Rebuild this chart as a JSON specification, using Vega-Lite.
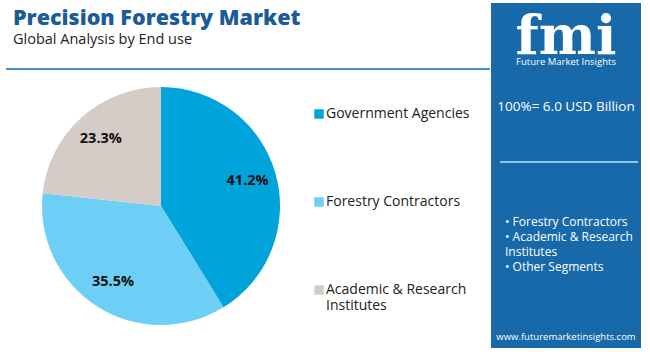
{
  "$schema": "https://vega.github.io/schema/vega-lite/v6.json",
  "background": "white",
  "padding": {"left": 5, "top": 3, "right": 0, "bottom": 0},
  "config": {"view": {"stroke": null}, "font": "Open Sans"},
  "spacing": 0,
  "resolve": {"legend": {"color": "independent"}, "scale": {"color": "independent"}},
  "hconcat": [
    {
      "spacing": 17,
      "resolve": {"legend": {"color": "independent"}, "scale": {"color": "independent"}},
      "vconcat": [
        {
          "width": 484,
          "height": 66,
          "resolve": {"scale": {"x": "independent", "y": "independent"}},
          "layer": [
            {
              "data": {"values": [{"label": "Precision Forestry Market"}]},
              "mark": {"type": "text", "font": "Open Sans", "fontSize": 21.5, "fontWeight": 800, "fill": "#1a5b99", "baseline": "alphabetic", "align": "left"},
              "encoding": {
                "text": {"field": "label"},
                "x": {"datum": "left", "type": "nominal", "scale": {"type": "point", "padding": 0, "align": 0.0145}, "axis": null},
                "y": {"field": "label", "type": "nominal", "scale": {"type": "point", "padding": 0, "align": 0.333}, "axis": null}
              }
            },
            {
              "data": {"values": [{"label": "Global Analysis by End use"}]},
              "mark": {"type": "text", "font": "Open Sans", "fontSize": 14.5, "fill": "#222222", "baseline": "alphabetic", "align": "left"},
              "encoding": {
                "text": {"field": "label"},
                "x": {"datum": "left", "type": "nominal", "scale": {"type": "point", "padding": 0, "align": 0.0145}, "axis": null},
                "y": {"field": "label", "type": "nominal", "scale": {"type": "point", "padding": 0, "align": 0.621}, "axis": null}
              }
            },
            {
              "data": {"values": [{"label": "divider"}]},
              "mark": {"type": "rule", "stroke": "#4a8fc9", "strokeWidth": 2},
              "encoding": {
                "y": {"field": "label", "type": "nominal", "scale": {"type": "point", "padding": 0, "align": 1}, "axis": null}
              }
            }
          ]
        },
        {
          "width": 274,
          "height": 238,
          "data": {
            "values": [
              {"segment": "Government Agencies", "share": 0.412},
              {"segment": "Forestry Contractors", "share": 0.355},
              {"segment": "Academic & Research Institutes", "share": 0.233}
            ]
          },
          "encoding": {
            "theta": {"field": "share", "type": "quantitative", "stack": true},
            "order": {"field": "share", "sort": "descending"},
            "x": {"datum": "pie", "type": "nominal", "scale": {"type": "point", "padding": 0, "align": 0.5657}, "axis": null}
          },
          "layer": [
            {
              "mark": {"type": "arc", "outerRadius": 119},
              "encoding": {
                "color": {
                  "field": "segment",
                  "type": "nominal",
                  "scale": {
                    "domain": ["Government Agencies", "Forestry Contractors", "Academic & Research Institutes"],
                    "range": ["#00a3da", "#6dcff6", "#d5ccc8"]
                  },
                  "legend": {
                    "orient": "right",
                    "title": " ",
                    "titleFontSize": 10,
                    "titlePadding": 10,
                    "offset": 32,
                    "padding": 0,
                    "symbolType": "square",
                    "symbolSize": 90,
                    "symbolStrokeWidth": 0,
                    "labelFont": "Open Sans",
                    "labelFontSize": 14,
                    "labelColor": "#222222",
                    "labelOffset": 0,
                    "labelLimit": 300,
                    "rowPadding": 74,
                    "labelExpr": "datum.label == 'Academic & Research Institutes' ? ['Academic & Research', 'Institutes'] : datum.label"
                  }
                }
              }
            },
            {
              "mark": {"type": "text", "radius": 90, "font": "Open Sans", "fontSize": 14.5, "fontWeight": "bold", "fill": "#111111"},
              "encoding": {
                "text": {"field": "share", "type": "quantitative", "format": ".1%"},
                "detail": {"field": "segment"}
              }
            }
          ]
        }
      ]
    },
    {
      "width": 150,
      "height": 345,
      "view": {"fill": "#1769aa", "stroke": null},
      "resolve": {"scale": {"x": "independent", "y": "independent"}},
      "layer": [
        {
          "data": {"values": [{"label": "fmi"}]},
          "mark": {"type": "text", "font": "DejaVu Serif", "fontSize": 54, "fontWeight": "bold", "fill": "white", "baseline": "alphabetic", "align": "center"},
          "encoding": {
            "text": {"field": "label"},
            "y": {"field": "label", "type": "nominal", "scale": {"type": "point", "padding": 0, "align": 0.1478}, "axis": null}
          }
        },
        {
          "data": {"values": [{"label": "Future Market Insights"}]},
          "mark": {"type": "text", "font": "Open Sans", "fontSize": 9.5, "fill": "white", "baseline": "middle", "align": "center"},
          "encoding": {
            "text": {"field": "label"},
            "y": {"field": "label", "type": "nominal", "scale": {"type": "point", "padding": 0, "align": 0.171}, "axis": null}
          }
        },
        {
          "data": {"values": [{"label": "100%= 6.0 USD Billion"}]},
          "mark": {"type": "text", "font": "Open Sans", "fontSize": 13.5, "fill": "white", "baseline": "middle", "align": "center"},
          "encoding": {
            "text": {"field": "label"},
            "y": {"field": "label", "type": "nominal", "scale": {"type": "point", "padding": 0, "align": 0.3014}, "axis": null}
          }
        },
        {
          "data": {"values": [{"label": "separator"}]},
          "mark": {"type": "rule", "stroke": "#8ec5ee", "strokeWidth": 2},
          "encoding": {
            "y": {"field": "label", "type": "nominal", "scale": {"type": "point", "padding": 0, "align": 0.4609}, "axis": null},
            "x": {"datum": 0.06, "type": "quantitative", "scale": {"domain": [0, 1]}, "axis": null},
            "x2": {"datum": 0.98}
          }
        },
        {
          "data": {
            "values": [
              {"line": "• Forestry Contractors"},
              {"line": "• Academic & Research"},
              {"line": "Institutes"},
              {"line": "• Other Segments"}
            ]
          },
          "mark": {"type": "text", "font": "Open Sans", "fontSize": 12, "fill": "white", "baseline": "middle", "align": "left"},
          "encoding": {
            "text": {"field": "line"},
            "y": {"field": "line", "type": "nominal", "sort": null, "scale": {"type": "point", "padding": 0, "range": [219, 264]}, "axis": null},
            "x": {"datum": "list", "type": "nominal", "scale": {"type": "point", "padding": 0, "align": 0.0933}, "axis": null}
          }
        },
        {
          "data": {"values": [{"label": "www.futuremarketinsights.com"}]},
          "mark": {"type": "text", "font": "Open Sans", "fontSize": 9.5, "fill": "white", "baseline": "middle", "align": "center"},
          "encoding": {
            "text": {"field": "label"},
            "y": {"field": "label", "type": "nominal", "scale": {"type": "point", "padding": 0, "align": 0.968}, "axis": null}
          }
        }
      ]
    }
  ]
}
